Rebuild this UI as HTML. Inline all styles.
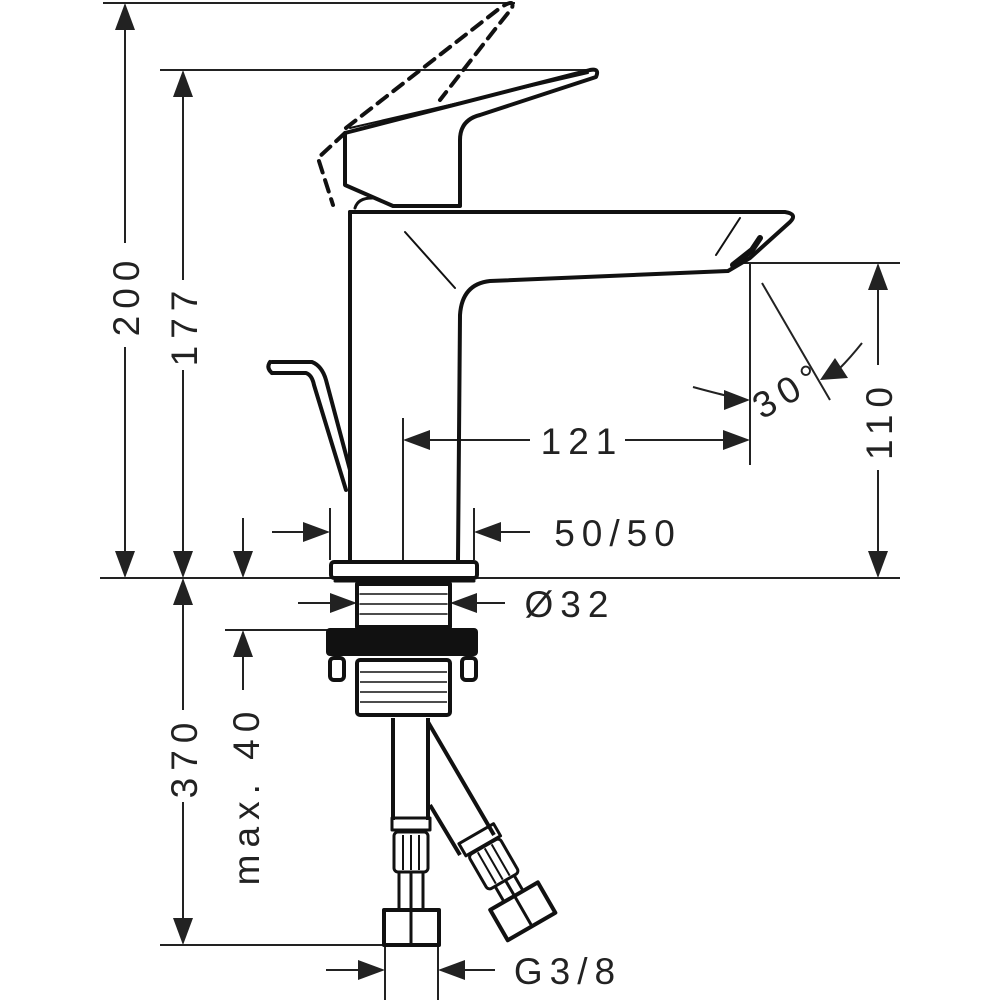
<!DOCTYPE html>
<html><head><meta charset="utf-8"><style>
html,body{margin:0;padding:0;background:#fff}
svg{display:block}
text{font-family:"Liberation Sans",sans-serif;font-size:37px;fill:#222;letter-spacing:7px}
</style></head><body>
<svg width="1000" height="1000" viewBox="0 0 1000 1000" xmlns="http://www.w3.org/2000/svg">
<g stroke="#222" stroke-width="2" fill="none">
<line x1="103" y1="3" x2="515" y2="3"/>
<line x1="160" y1="70" x2="590" y2="70"/>
<line x1="100" y1="578" x2="900" y2="578"/>
<line x1="740" y1="263" x2="900" y2="263"/>
<line x1="225" y1="630" x2="330" y2="630"/>
<line x1="160" y1="945" x2="385" y2="945"/>
<line x1="125" y1="30" x2="125" y2="243"/><line x1="125" y1="347" x2="125" y2="555"/>
<line x1="183" y1="95" x2="183" y2="280"/><line x1="183" y1="370" x2="183" y2="555"/>
<line x1="183" y1="600" x2="183" y2="710"/><line x1="183" y1="802" x2="183" y2="922"/>
<line x1="243" y1="518" x2="243" y2="555"/><line x1="243" y1="655" x2="243" y2="690"/>
<line x1="878" y1="285" x2="878" y2="365"/><line x1="878" y1="470" x2="878" y2="555"/>
<line x1="403" y1="418" x2="403" y2="562"/>
<line x1="750" y1="263" x2="750" y2="465"/>
<line x1="425" y1="440" x2="530" y2="440"/><line x1="625" y1="440" x2="728" y2="440"/>
<line x1="330" y1="508" x2="330" y2="560"/><line x1="474" y1="508" x2="474" y2="560"/>
<line x1="272" y1="532" x2="308" y2="532"/><line x1="496" y1="532" x2="530" y2="532"/>
<line x1="298" y1="603" x2="335" y2="603"/><line x1="472" y1="603" x2="505" y2="603"/>
<line x1="385" y1="945" x2="385" y2="1000"/><line x1="438" y1="945" x2="438" y2="1000"/>
<line x1="326" y1="970" x2="362" y2="970"/><line x1="461" y1="970" x2="495" y2="970"/>
<line x1="762" y1="283" x2="830" y2="400"/>
<path d="M862 343 Q850 358 840 368"/>
<path d="M693 387 Q715 393 728 396"/>
</g>
<g fill="#222">
<polygon points="125,3 115,30 135,30"/><polygon points="125,578 115,551 135,551"/>
<polygon points="183,70 173,97 193,97"/><polygon points="183,578 173,551 193,551"/>
<polygon points="183,578 173,605 193,605"/><polygon points="183,945 173,918 193,918"/>
<polygon points="243,578 233,551 253,551"/><polygon points="243,630 233,657 253,657"/>
<polygon points="878,263 868,290 888,290"/><polygon points="878,578 868,551 888,551"/>
<polygon points="403,440 430,430 430,450"/><polygon points="750,440 723,430 723,450"/>
<polygon points="330,532 303,522 303,542"/><polygon points="474,532 501,522 501,542"/>
<polygon points="357,603 330,593 330,613"/><polygon points="450,603 477,593 477,613"/>
<polygon points="385,970 358,960 358,980"/><polygon points="438,970 465,960 465,980"/>
<polygon points="750,400 724,390 724,410"/>
<polygon points="820,380 848,378 835,358"/>
</g>
<text transform="translate(139,295) rotate(-90)" text-anchor="middle">200</text>
<text transform="translate(197,325) rotate(-90)" text-anchor="middle">177</text>
<text transform="translate(197,757) rotate(-90)" text-anchor="middle">370</text>
<text transform="translate(259,795) rotate(-90)" text-anchor="middle">max. 40</text>
<text transform="translate(892,420) rotate(-90)" text-anchor="middle">110</text>
<text x="582" y="454" text-anchor="middle">121</text>
<text x="618" y="546" text-anchor="middle">50/50</text>
<text x="570" y="617" text-anchor="middle">Ø32</text>
<text x="568" y="984" text-anchor="middle">G3/8</text>
<text transform="translate(762,420) rotate(-30)">30°</text>
<g stroke="#111" stroke-width="4" fill="none" stroke-linejoin="round" stroke-linecap="round">
<g stroke-dasharray="12,8" stroke-width="4">
<path d="M346 128 L500 8 Q515 -2 512 8 L496 28 L440 100"/>
<path d="M345 133 L318 158 L333 205"/>
</g>
<path d="M345 133 L590 70 Q600 68 596 77 L480 115 Q460 120 460 140 L460 206 L393 206 L345 185 Z" fill="#fff"/>
<path d="M350 128 L588 73" stroke-width="2"/>
<path d="M350 212 L350 560"/>
<path d="M350 212 L785 212 Q798 214 790 222 L750 258 L728 271 L490 281 Q462 284 460 315 L458 560"/>
<path d="M733 265 L752 250 L760 238" stroke-width="6"/>
<path d="M740 218 L716 255" stroke-width="2"/>
<path d="M405 232 L455 288" stroke-width="2"/>
<path d="M355 208 Q358 198 372 198" stroke-width="3"/>
<path d="M272 362 L312 362 Q322 366 326 380 L350 470" stroke-width="4"/>
<path d="M272 373 L306 373 Q312 375 314 385 L346 490" stroke-width="4"/>
<path d="M270 362 Q266 368 272 373"/>
<rect x="331" y="562" width="146" height="16" rx="3"/>
<line x1="335" y1="581" x2="474" y2="581" stroke-width="3"/>
<rect x="357" y="584" width="93" height="43"/>
<g stroke-width="1.5">
<line x1="360" y1="594" x2="447" y2="594"/><line x1="360" y1="604" x2="447" y2="604"/><line x1="360" y1="614" x2="447" y2="614"/>
</g>
</g>
<rect x="326" y="628" width="152" height="28" rx="4" fill="#111"/>
<g stroke="#111" stroke-width="4" fill="none" stroke-linejoin="round">
<rect x="330" y="658" width="14" height="22" rx="4"/>
<rect x="462" y="658" width="14" height="22" rx="4"/>
<rect x="357" y="660" width="93" height="55" rx="3" fill="#fff"/>
<g stroke-width="1.5"><line x1="360" y1="672" x2="447" y2="672"/><line x1="360" y1="682" x2="447" y2="682"/><line x1="360" y1="692" x2="447" y2="692"/><line x1="360" y1="702" x2="447" y2="702"/></g>
<path d="M393 718 L393 820 M428 718 L428 820"/>
<rect x="392" y="818" width="38" height="12" stroke-width="3"/>
<rect x="394" y="832" width="34" height="40" rx="4" stroke-width="3"/>
<g stroke-width="2"><line x1="403" y1="835" x2="403" y2="870"/><line x1="411" y1="835" x2="411" y2="870"/><line x1="419" y1="835" x2="419" y2="870"/></g>
<path d="M399 872 L399 910 M411 872 L411 910 M423 872 L423 910" stroke-width="3"/>
<rect x="384" y="910" width="55" height="35" stroke-width="4"/>
<line x1="411" y1="910" x2="411" y2="945" stroke-width="3"/>
<path d="M428 722 L494 835 M430 805 L460 855"/>
<g transform="translate(492,865) rotate(-30)">
<rect x="-18" y="-35" width="40" height="14" stroke-width="3"/>
<rect x="-16" y="-20" width="36" height="40" rx="4" stroke-width="3"/>
<line x1="-6" y1="-18" x2="-6" y2="18" stroke-width="2"/><line x1="2" y1="-18" x2="2" y2="18" stroke-width="2"/><line x1="10" y1="-18" x2="10" y2="18" stroke-width="2"/>
<path d="M-8 20 L-8 38 M4 20 L4 38 M14 20 L14 38" stroke-width="3"/>
<rect x="-24" y="38" width="55" height="35"/>
<line x1="4" y1="38" x2="4" y2="73" stroke-width="3"/>
</g>
</g>
</svg>
</body></html>
